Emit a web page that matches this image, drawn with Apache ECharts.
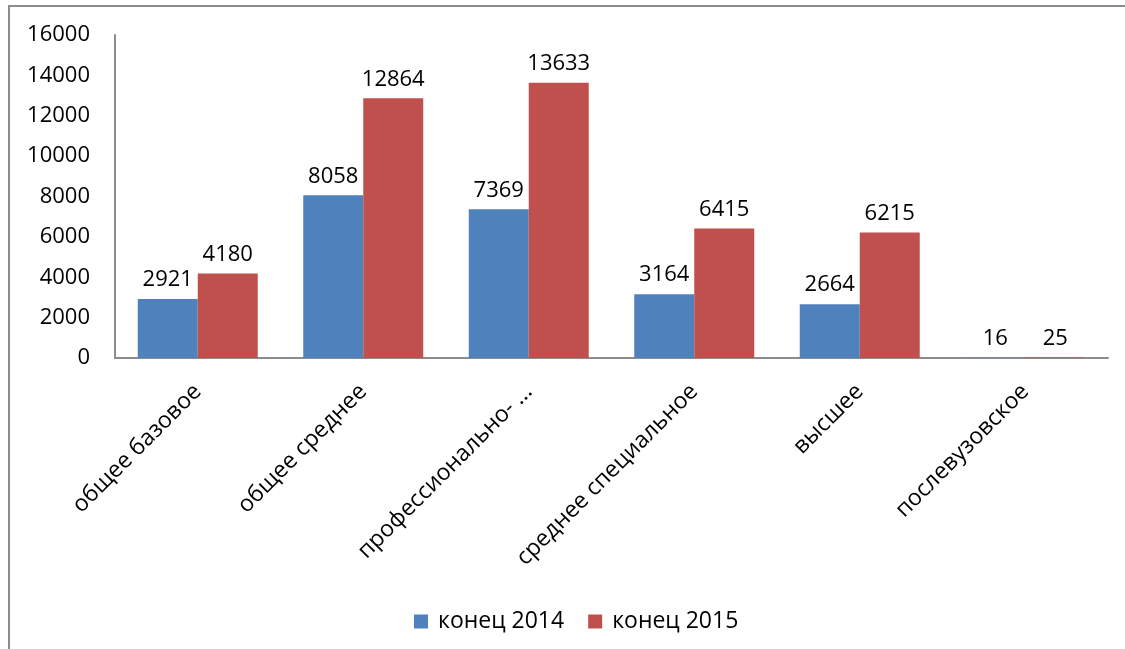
<!DOCTYPE html>
<html>
<head>
<meta charset="utf-8">
<script src="https://cdn.jsdelivr.net/npm/echarts@6/dist/echarts.min.js"></script>
<style>
html, body { margin: 0; padding: 0; background: #fff; }
#chart { width: 1125px; height: 649px; }
</style>
</head>
<body>
<div id="chart"></div>
<script>
var categories = ['общее базовое', 'общее среднее', 'профессионально- ...', 'среднее специальное', 'высшее', 'послевузовское'];
var end2014 = [2921, 8058, 7369, 3164, 2664, 16];
var end2015 = [4180, 12864, 13633, 6415, 6215, 25];
var yTicks = [0, 2000, 4000, 6000, 8000, 10000, 12000, 14000, 16000];

var font = 'Open Sans';
var myChart = echarts.init(document.getElementById('chart'));
myChart.setOption({
	animation: false,
	textStyle: { fontFamily: font },
	graphic: [{
		type: 'rect',
		shape: { x: 9, y: 6, width: 1130, height: 660 },
		style: { fill: 'none', stroke: '#8c8c8c', lineWidth: 2 }
	}],
	legend: {
		bottom: 11,
		left: 409,
		itemWidth: 14,
		itemHeight: 14,
		itemGap: 24,
		icon: 'rect',
		textStyle: { fontSize: 23, color: '#000', fontFamily: font, padding: [0, 0, 0, 5] },
		data: ['конец 2014', 'конец 2015']
	},
	grid: { left: 115, top: 35, right: 17, bottom: 291, containLabel: false },
	xAxis: {
		type: 'category',
		data: categories,
		axisLine: { lineStyle: { color: '#8c8c8c', width: 2 } },
		axisTick: { show: false },
		axisLabel: { rotate: 45, fontSize: 23, color: '#000', margin: 30, interval: 0 }
	},
	yAxis: {
		type: 'value',
		min: yTicks[0],
		max: yTicks[yTicks.length - 1],
		interval: 2000,
		splitLine: { show: false },
		axisLine: { show: true, lineStyle: { color: '#8c8c8c', width: 2 } },
		axisTick: { show: false },
		axisLabel: { fontSize: 22, color: '#000', margin: 25, formatter: function (v) { return String(v); } }
	},
	series: [{
		name: 'конец 2014',
		type: 'bar',
		data: end2014,
		barGap: '0%',
		barCategoryGap: '27.5%',
		itemStyle: { color: '#4F81BD' },
		label: { show: true, position: 'top', distance: 8, fontSize: 22, color: '#000' }
	}, {
		name: 'конец 2015',
		type: 'bar',
		data: end2015,
		barGap: '0%',
		barCategoryGap: '27.5%',
		itemStyle: { color: '#C0504D' },
		label: { show: true, position: 'top', distance: 8, fontSize: 22, color: '#000' }
	}]
});
</script>
</body>
</html>
